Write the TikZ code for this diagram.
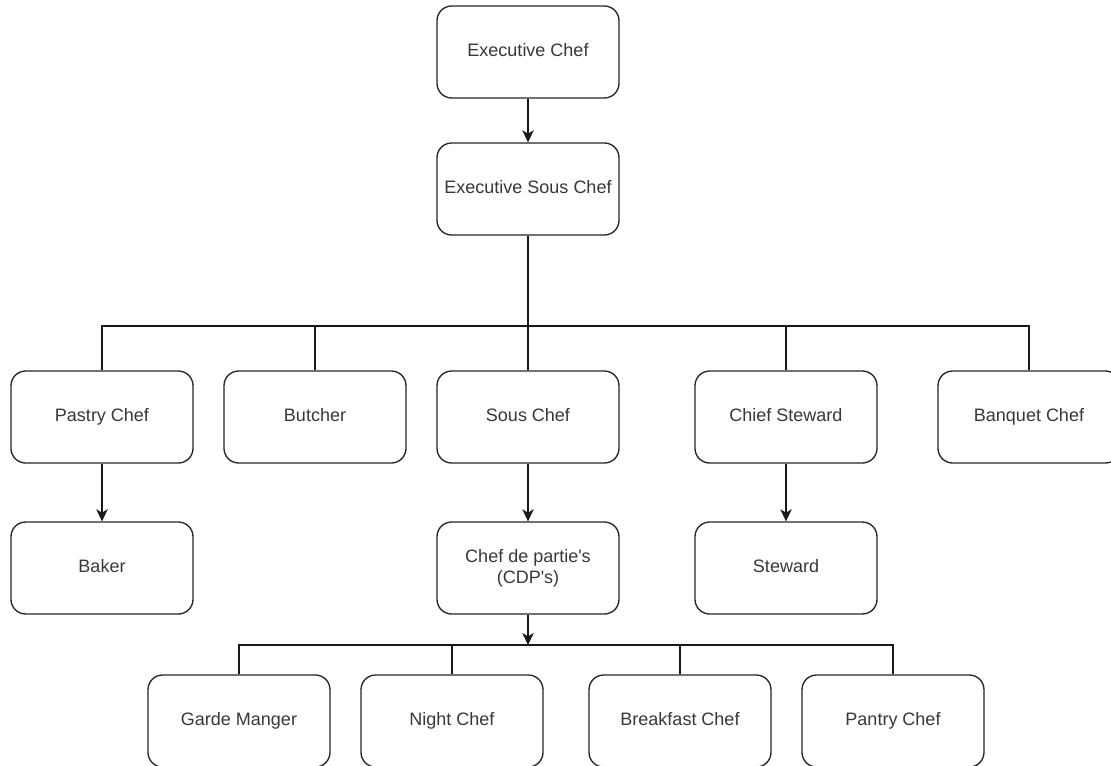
\documentclass[tikz,border=0pt]{standalone}
\usepackage{fontspec}
\setmainfont{Liberation Sans}[Ligatures=TeXOff]
\usetikzlibrary{arrows.meta}

\begin{document}
\begin{tikzpicture}[x=0.75pt,y=-0.75pt,
  role/.style={draw=black!85, line width=1pt, rounded corners=11pt, fill=white,
    minimum width=136.5pt, minimum height=69pt, text=black!78,
    font=\fontsize{13.5}{16}\selectfont, align=center, inner sep=0pt},
  oneline/.style={role, text height=10pt, text depth=3pt},
  link/.style={draw=black!90, line width=1pt},
  arr/.style={link, -{Stealth[length=9pt,width=8.5pt,inset=2.5pt]}}]
  \clip (0,0) rectangle (1111,765);
  \fill[white] (0,0) rectangle (1111,765);

%top
  \node[oneline] (ExC) at (528,52) {Executive Chef};
  \node[oneline] (ExSC) at (528,189) {Executive Sous Chef};
  \draw[arr] (ExC) -- (ExSC);

%second row
  \coordinate (busA) at (528,326);
  \node[oneline] (PaC) at (102,417) {Pastry Chef};
  \node[oneline] (But) at (315,417) {Butcher};
  \node[oneline] (SoC) at (528,417) {Sous Chef};
  \node[oneline] (ChS) at (786,417) {Chief Steward};
  \node[oneline] (BaC) at (1029,417) {Banquet Chef};
  \draw[link] (ExSC) -- (busA);
  \draw[link] (busA) -| (PaC);
  \draw[link] (busA) -| (But);
  \draw[link] (busA) -- (SoC);
  \draw[link] (busA) -| (ChS);
  \draw[link] (busA) -| (BaC);

%third row
  \node[oneline] (Bak) at (102,568) {Baker};
  \node[role] (CDP) at (528,568) {Chef de partie's\\(CDP's)};
  \node[oneline] (Stw) at (786,568) {Steward};
  \draw[arr] (PaC) -- (Bak);
  \draw[arr] (SoC) -- (CDP);
  \draw[arr] (ChS) -- (Stw);

%fourth row
  \coordinate (busB) at (528,645);
  \node[oneline] (GaM) at (239,721) {Garde Manger};
  \node[oneline] (NiC) at (452,721) {Night Chef};
  \node[oneline] (BrC) at (680,721) {Breakfast Chef};
  \node[oneline] (PnC) at (893,721) {Pantry Chef};
  \draw[arr] (CDP) -- (busB);
  \draw[link] (busB) -| (GaM);
  \draw[link] (busB) -| (NiC);
  \draw[link] (busB) -| (BrC);
  \draw[link] (busB) -| (PnC);

\end{tikzpicture}
\end{document}
